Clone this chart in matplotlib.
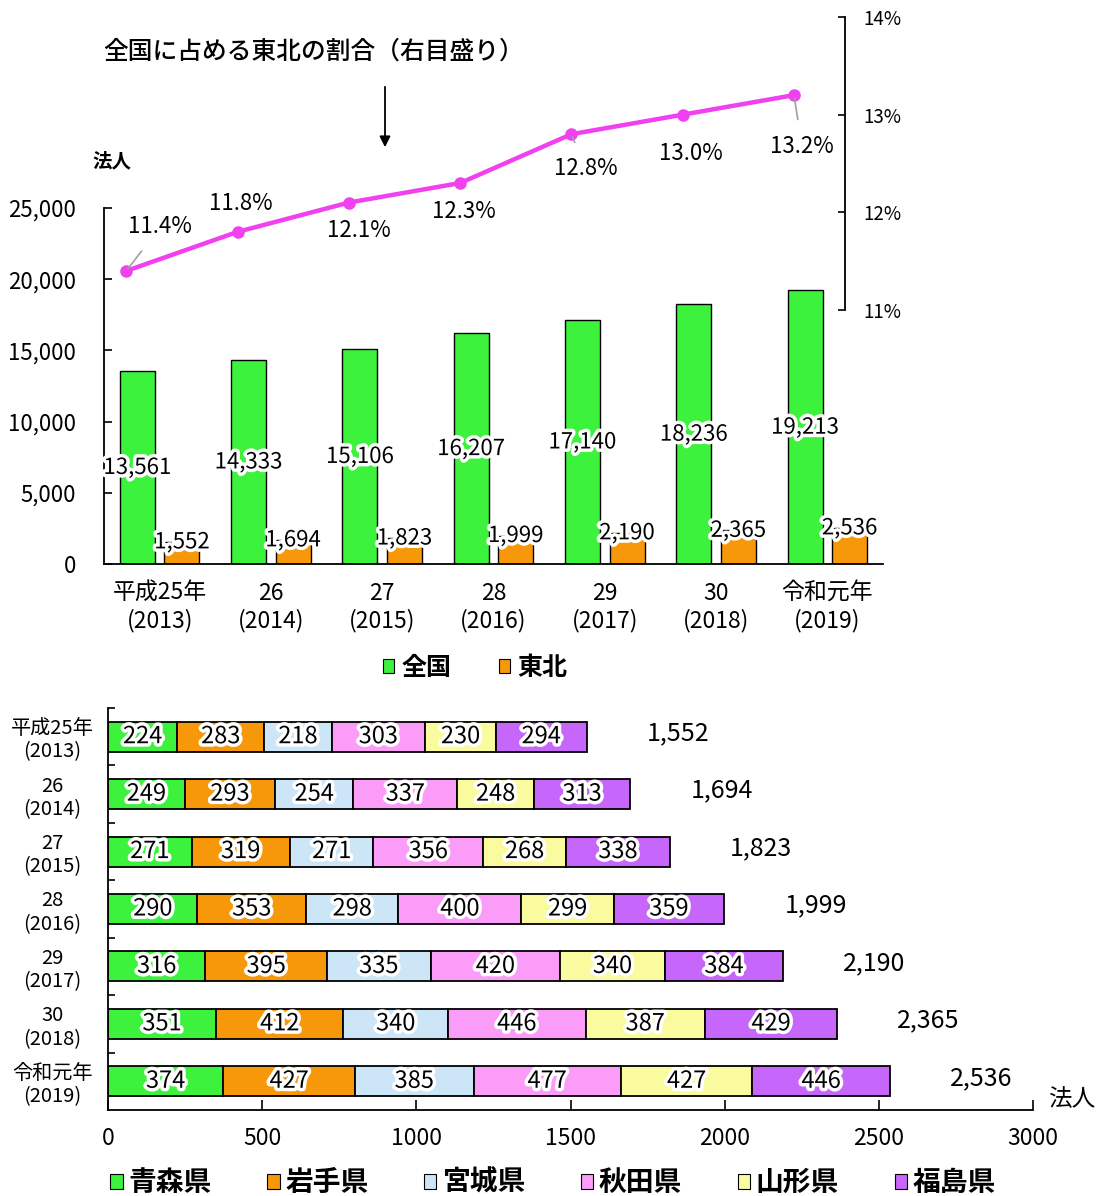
import matplotlib
matplotlib.use("Agg")
import matplotlib.pyplot as plt
import matplotlib.patheffects as pe
from matplotlib.patches import Patch, FancyArrowPatch

plt.rcParams['font.family'] = ['Noto Sans CJK JP', 'DejaVu Sans']

# ---- data -------------------------------------------------------------
years = ['平成25年\n(2013)', '26\n(2014)', '27\n(2015)', '28\n(2016)',
         '29\n(2017)', '30\n(2018)', '令和元年\n(2019)']
national = [13561, 14333, 15106, 16207, 17140, 18236, 19213]
tohoku = [1552, 1694, 1823, 1999, 2190, 2365, 2536]
share_pct = [11.4, 11.8, 12.1, 12.3, 12.8, 13.0, 13.2]

prefectures = ['青森県', '岩手県', '宮城県', '秋田県', '山形県', '福島県']
aomori = [224, 249, 271, 290, 316, 351, 374]
iwate = [283, 293, 319, 353, 395, 412, 427]
miyagi = [218, 254, 271, 298, 335, 340, 385]
akita = [303, 337, 356, 400, 420, 446, 477]
yamagata = [230, 248, 268, 299, 340, 387, 427]
fukushima = [294, 313, 338, 359, 384, 429, 446]
pref_series = [aomori, iwate, miyagi, akita, yamagata, fukushima]

# ---- styling ------------------------------------------------------------
GREEN = '#3DF23D'
ORANGE = '#F7980A'
LINE = '#F040F0'
PREF_COLORS = ['#3DF23D', '#F7980A', '#CCE6F8', '#FB9CF8', '#FAFA9E', '#C766FA']
halo = [pe.withStroke(linewidth=5, foreground='white')]

W, H = 1104, 1196
fig = plt.figure(figsize=(W / 100, H / 100), dpi=100)


def box(x0, y0, x1, y1):
    """Axes rectangle from pixel corners (top-left origin)."""
    return [x0 / W, 1 - y1 / H, (x1 - x0) / W, (y1 - y0) / H]


# ---- upper chart: number of corporations ---------------------------------
ax1 = fig.add_axes(box(104, 208, 883, 564))
n = len(years)
xs = list(range(n))
ax1.bar([x - 0.2 for x in xs], national, width=0.315, color=GREEN,
        edgecolor='black', linewidth=1.0, zorder=2)
ax1.bar([x + 0.2 for x in xs], tohoku, width=0.315, color=ORANGE,
        edgecolor='black', linewidth=1.0, zorder=2)
ax1.set_xlim(-0.5, 6.5)
ax1.set_ylim(0, 25000)
ax1.set_yticks(range(0, 25001, 5000))
ax1.set_yticklabels([f'{v:,}' for v in range(0, 25001, 5000)], fontsize=16)
ax1.tick_params(axis='y', direction='in', length=6, width=1.2, pad=20)
ax1.set_xticks(xs)
ax1.set_xticklabels(years, fontsize=16.5, linespacing=1.2)
ax1.tick_params(axis='x', length=0, pad=13)
for s in ('top', 'right'):
    ax1.spines[s].set_visible(False)
ax1.spines['left'].set_linewidth(1.3)
ax1.spines['bottom'].set_linewidth(1.3)

for x, v in zip(xs, national):
    ax1.text(x - 0.2, v / 2, f'{v:,}', ha='center', va='center', fontsize=16,
             path_effects=halo, zorder=5)
for x, v in zip(xs, tohoku):
    ax1.text(x + 0.2, v, f'{v:,}', ha='center', va='center', fontsize=16,
             path_effects=halo, zorder=5)

# ---- share of Tohoku (right scale) ------------------------------------------
px_per_cat = (883 - 104) / 7
ax2 = fig.add_axes(box(104, 17, 845, 310))
ax2.patch.set_alpha(0)
ax2.set_xlim(-0.5, -0.5 + (845 - 104) / px_per_cat)
ax2.set_ylim(11, 14)
line_x = [x - 0.3 for x in xs]
ax2.plot(line_x, share_pct, color=LINE, lw=3.2, marker='o', ms=8, zorder=3)
for s in ('top', 'left', 'bottom'):
    ax2.spines[s].set_visible(False)
ax2.spines['right'].set_linewidth(1.3)
ax2.set_xticks([])
ax2.yaxis.tick_right()
ax2.set_yticks([11, 12, 13, 14])
ax2.set_yticklabels(['11%', '12%', '13%', '14%'], fontsize=13.5)
ax2.tick_params(axis='y', direction='in', length=5, width=1.2, pad=13)

label_offsets = [(34, 44), (3, 28), (10, -28), (4, -28), (14, -34), (8, -39), (8, -51)]
leaders = [True, False, False, False, True, False, True]
for x, v, off, lead in zip(line_x, share_pct, label_offsets, leaders):
    arrow = dict(arrowstyle='-', color='#A0A0A0', lw=1.2, shrinkA=9, shrinkB=2) if lead else None
    ax2.annotate(f'{v:.1f}%', xy=(x, v), xytext=off, textcoords='offset pixels',
                 ha='center', va='center', fontsize=16, arrowprops=arrow,
                 annotation_clip=False, zorder=6)

fig.text(103 / W, 1 - 52 / H, '全国に占める東北の割合（右目盛り）', fontsize=17.8,
         weight='medium', ha='left', va='center')
fig.add_artist(FancyArrowPatch(
    (385 / W, 1 - 84 / H), (385 / W, 1 - 150 / H), transform=fig.transFigure,
    arrowstyle='-|>', mutation_scale=16, color='black', lw=1.3))
fig.text(92 / W, 1 - 162 / H, '法人', fontsize=14, weight='bold', ha='left', va='center')

fig.legend(handles=[Patch(fc=GREEN, ec='black', lw=0.8, label='全国'),
                    Patch(fc=ORANGE, ec='black', lw=0.8, label='東北')],
           loc='center', bbox_to_anchor=(475 / W, 1 - 668 / H), ncol=2, frameon=False,
           handlelength=0.45, handleheight=0.45, handletextpad=0.3, columnspacing=1.9,
           prop=dict(size=18, weight='bold'))

# ---- lower chart: breakdown by prefecture ----------------------------------
ax3 = fig.add_axes(box(108, 708, 1033, 1110))
lefts = [0] * n
for vals, col in zip(pref_series, PREF_COLORS):
    ax3.barh(xs, vals, left=lefts, height=0.52, color=col, edgecolor='black',
             linewidth=1.3, zorder=2)
    for i, (l, v) in enumerate(zip(lefts, vals)):
        ax3.text(l + v / 2, i, str(v), ha='center', va='center', fontsize=17,
                 path_effects=halo, zorder=5)
    lefts = [l + v for l, v in zip(lefts, vals)]
for i, tot in enumerate(tohoku):
    ax3.text(tot + 195, i - 0.06, f'{tot:,}', ha='left', va='center', fontsize=18)

ax3.set_xlim(0, 3000)
ax3.set_ylim(6.5, -0.5)
ax3.set_xticks(range(0, 3001, 500))
ax3.set_xticklabels([str(v) for v in range(0, 3001, 500)], fontsize=16.5)
ax3.tick_params(axis='x', direction='in', length=7, width=1.2, pad=12)
ax3.set_yticks(xs)
ax3.set_yticklabels(years, fontsize=14.5, ha='center', linespacing=1.15)
ax3.tick_params(axis='y', which='major', length=0, pad=40)
ax3.set_yticks([x - 0.5 for x in xs], minor=True)
ax3.tick_params(axis='y', which='minor', direction='in', length=5, width=1.2)
for s in ('top', 'right'):
    ax3.spines[s].set_visible(False)
ax3.spines['left'].set_linewidth(1.3)
ax3.spines['bottom'].set_linewidth(1.3)
fig.text(1048 / W, 1 - 1100 / H, '法人', fontsize=17, ha='left', va='center')

fig.legend(handles=[Patch(fc=c, ec='black', lw=0.8, label=p)
                    for c, p in zip(PREF_COLORS, prefectures)],
           loc='center', bbox_to_anchor=(553 / W, 1 - 1183 / H), ncol=6, frameon=False,
           handlelength=0.45, handleheight=0.45, handletextpad=0.2, columnspacing=2.0,
           prop=dict(size=20, weight='bold'))

fig.savefig('out.png', dpi=100, facecolor='white')
